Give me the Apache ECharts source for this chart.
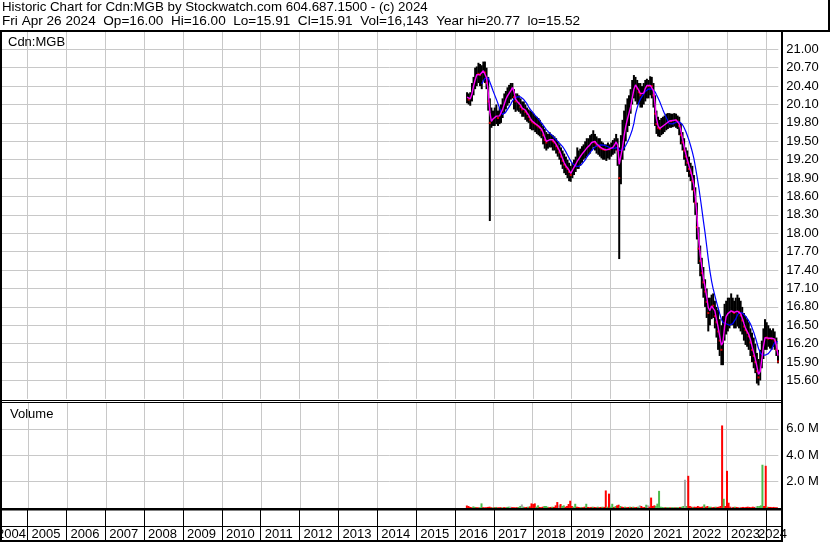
<!DOCTYPE html>
<html><head><meta charset="utf-8">
<script src="https://cdn.jsdelivr.net/npm/echarts@6/dist/echarts.min.js"></script>
<style>html,body{margin:0;padding:0;background:#fff;}#c{width:830px;height:543px;}</style>
</head><body><div id="c"></div>
<script>
// ---------------- texts ----------------
const headerLine1 = 'Historic Chart for Cdn:MGB by Stockwatch.com 604.687.1500 - (c) 2024';
const headerLine2 = 'Fri Apr 26 2024  Op=16.00  Hi=16.00  Lo=15.91  Cl=15.91  Vol=16,143  Year hi=20.77  lo=15.52';
const symbolLabel = 'Cdn:MGB';
const volumeLabel = 'Volume';
const yearLabels = ['2004','2005','2006','2007','2008','2009','2010','2011','2012','2013','2014','2015','2016','2017','2018','2019','2020','2021','2022','2023','2024'];

// ---------------- axis ranges ----------------
const axisStart = [2004, 3, 26];   // Apr 26 2004
const axisEnd = [2024, 3, 26];     // Apr 26 2024
const priceMin = 15.3, priceMax = 21.3, priceStep = 0.3;
const volMin = 0, volMax = 8, volStep = 2;   // millions

// ---------------- data: half-month periods (8th / 23rd), Apr 2016 .. Apr 2024 ----------------
const periodDates = [];
for (let y = 2016; y <= 2024; y++) for (let m = 1; m <= 12; m++) for (const d of [8, 23]) {
  const s = y + '-' + String(m).padStart(2, '0') + '-' + String(d).padStart(2, '0');
  if (s >= '2016-04-23' && s <= '2024-04-23') periodDates.push(s);
}

const highs = [
  20.30,20.28,20.30,20.45,20.55,20.70,20.72,20.78,20.76,20.74,20.80,20.80,20.70,20.55,20.20,20.05,20.00,
  20.05,20.10,20.00,20.05,20.10,20.20,20.28,20.32,20.38,20.42,20.45,20.45,20.35,20.28,20.28,20.25,20.20,20.15,20.15,20.10,20.05,20.02,20.00,19.98,
  19.95,19.92,19.90,19.88,19.85,19.80,19.75,19.70,19.65,19.62,19.65,19.62,19.60,19.58,19.55,19.50,19.45,19.40,19.35,19.30,19.25,19.20,19.15,19.10,
  19.15,19.20,19.25,19.40,19.35,19.38,19.42,19.45,19.50,19.55,19.55,19.60,19.62,19.68,19.62,19.58,19.55,19.55,19.50,19.48,19.45,19.45,19.48,19.45,
  19.48,19.52,19.55,19.62,19.55,19.40,19.60,19.85,20.00,20.10,20.20,20.25,20.35,20.50,20.58,20.55,20.50,20.45,20.45,20.40,20.45,20.50,20.52,20.50,
  20.56,20.55,20.45,20.25,20.00,19.90,19.85,19.88,19.90,19.92,19.95,19.96,19.96,19.95,19.95,19.96,19.95,19.92,19.90,19.80,19.65,19.55,19.40,19.35,
  19.25,19.15,19.10,18.95,18.75,18.50,18.10,17.80,17.60,17.45,17.25,17.10,16.95,16.95,17.00,17.02,16.90,16.80,16.75,16.60,16.50,16.65,16.85,16.90,
  16.95,16.95,17.02,16.95,16.90,16.95,17.00,16.95,16.90,16.80,16.70,16.65,16.60,16.55,16.45,16.38,16.30,16.20,16.05,15.95,16.10,16.25,16.45,16.60,
  16.55,16.50,16.45,16.42,16.45,16.40,16.30,16.10
];
const lows = [
  20.12,20.10,20.08,20.15,20.25,20.35,20.40,20.45,20.40,20.35,20.50,20.45,20.35,20.00,18.20,19.72,19.75,
  19.75,19.78,19.75,19.78,19.80,19.88,19.95,20.02,20.08,20.12,20.18,20.20,20.02,19.98,20.00,19.98,19.95,19.90,19.90,19.85,19.82,19.80,19.70,19.68,
  19.68,19.65,19.62,19.60,19.58,19.55,19.45,19.38,19.35,19.38,19.40,19.40,19.35,19.35,19.30,19.25,19.20,19.12,19.05,18.98,18.95,18.90,18.85,18.84,
  18.90,18.95,19.00,19.05,19.05,19.10,19.15,19.20,19.22,19.25,19.28,19.30,19.35,19.40,19.35,19.30,19.28,19.25,19.22,19.20,19.20,19.18,19.22,19.20,
  19.25,19.28,19.30,19.35,19.10,17.58,18.80,19.20,19.35,19.50,19.65,19.75,19.95,20.10,20.20,20.15,20.10,20.10,20.05,20.05,20.10,20.15,20.20,20.20,
  20.25,20.20,20.05,19.75,19.62,19.58,19.57,19.60,19.62,19.65,19.68,19.70,19.72,19.72,19.73,19.74,19.72,19.70,19.60,19.45,19.35,19.20,19.10,19.00,
  18.92,18.85,18.70,18.50,18.30,17.90,17.50,17.30,17.10,16.95,16.80,16.62,16.40,16.50,16.60,16.62,16.45,16.30,16.10,16.00,15.85,15.85,16.25,16.35,
  16.40,16.45,16.50,16.50,16.45,16.45,16.48,16.45,16.40,16.35,16.25,16.18,16.15,16.10,16.00,15.90,15.80,15.72,15.55,15.52,15.60,15.80,15.95,16.10,
  16.10,16.15,16.12,16.10,16.15,16.10,16.00,15.88
];
const closes = [
  20.22,20.18,20.20,20.35,20.45,20.55,20.62,20.60,20.58,20.62,20.68,20.62,20.45,20.15,19.80,19.85,19.88,
  19.90,19.92,19.88,19.95,19.98,20.06,20.15,20.22,20.26,20.30,20.35,20.40,20.22,20.15,20.15,20.12,20.06,20.02,20.04,19.98,19.95,19.90,19.85,19.82,
  19.80,19.78,19.76,19.74,19.72,19.68,19.60,19.52,19.48,19.50,19.55,19.55,19.50,19.48,19.42,19.38,19.32,19.25,19.18,19.12,19.08,19.05,19.00,18.95,
  19.05,19.10,19.15,19.20,19.22,19.28,19.30,19.33,19.38,19.40,19.43,19.46,19.50,19.52,19.48,19.44,19.42,19.40,19.38,19.37,19.36,19.36,19.38,19.37,
  19.38,19.42,19.46,19.52,19.35,18.90,19.30,19.50,19.68,19.80,19.92,20.00,20.12,20.28,20.42,20.42,20.36,20.30,20.25,20.25,20.32,20.40,20.42,20.40,
  20.42,20.40,20.25,19.95,19.78,19.72,19.70,19.74,19.76,19.78,19.80,19.82,19.84,19.83,19.85,19.86,19.84,19.82,19.75,19.60,19.48,19.35,19.25,19.15,
  19.05,18.98,18.85,18.70,18.50,18.10,17.75,17.55,17.35,17.20,17.05,16.88,16.70,16.78,16.85,16.82,16.65,16.55,16.40,16.25,16.10,16.35,16.60,16.68,
  16.70,16.72,16.75,16.72,16.70,16.72,16.74,16.72,16.66,16.58,16.48,16.42,16.38,16.32,16.22,16.10,16.00,15.90,15.75,15.65,15.85,16.05,16.25,16.35,
  16.30,16.28,16.30,16.28,16.30,16.25,16.10,15.91
];
// volume in millions of shares (largest day within each half-month)
const volumes = [
  0.19,0.15,0.08,0.06,0.12,0.08,0.06,0.05,0.06,0.35,0.06,0.05,0.06,0.08,0.10,0.06,0.05,
  0.06,0.08,0.05,0.05,0.06,0.05,0.06,0.05,0.08,0.10,0.10,0.06,0.06,0.05,0.06,0.08,0.15,0.27,0.10,0.06,0.08,0.10,0.12,0.35,
  0.30,0.35,0.10,0.20,0.08,0.06,0.10,0.15,0.15,0.10,0.06,0.08,0.10,0.08,0.20,0.45,0.20,0.30,0.15,0.20,0.10,0.15,0.30,0.55,
  0.15,0.10,0.32,0.10,0.08,0.06,0.08,0.06,0.10,0.32,0.08,0.06,0.08,0.10,0.08,0.06,0.10,0.06,0.08,0.10,0.08,1.33,0.10,1.09,
  0.10,0.32,0.08,0.15,0.20,0.25,0.15,0.10,0.08,0.10,0.06,0.08,0.10,0.08,0.10,0.06,0.08,0.10,0.20,0.15,0.06,0.08,0.25,0.20,
  0.10,0.79,0.15,0.20,0.15,0.33,1.30,0.10,0.08,0.06,0.06,0.06,0.06,0.05,0.06,0.06,0.05,0.06,0.06,0.08,0.10,0.15,2.14,0.15,
  2.44,0.15,0.10,0.08,0.10,0.08,0.15,0.10,0.08,0.12,0.27,0.10,0.15,0.10,0.10,0.06,0.08,0.10,0.08,0.10,0.15,6.26,0.70,0.15,
  2.82,0.40,0.10,0.08,0.08,0.10,0.08,0.06,0.08,0.06,0.08,0.06,0.08,0.10,0.08,0.06,0.10,0.08,0.10,0.15,0.15,0.20,3.28,0.15,
  3.20,0.10,0.08,0.08,0.06,0.08,0.06,0.05
];
// r = down day, g = up day, n = unchanged
const volumeDirs = (
  'rrrrggrrggrrrrrrg' +
  'rgrrrgrrggnrrrrggngrrgrr' +
  'rrggrrrgggrrgrrrnrggrrrr' +
  'rggrrrgrrgrrrgrrgrrgrrgr' +
  'ggrgrrgrrgrrgrgrrgnrrrgn' +
  'rrrrggggggrggrggrggrggng' +
  'rrrgrrrrrrgrrggrrgrrrrgr' +
  'rrrnrgrrnrrrrrrrrrnggggr' +
  'rgrrrrrr'
).split('');

const MA_SHORT = 2, MA_LONG = 10;   // periods (half-months)

// ---------------- helpers ----------------
function movingAverage(vals, n, partial) {
  return vals.map((v, i) => {
    if (i < n - 1 && !partial) return null;
    const s = vals.slice(Math.max(0, i - n + 1), i + 1);
    return +(s.reduce((a, b) => a + b, 0) / s.length).toFixed(3);
  });
}
const maShort = movingAverage(closes, MA_SHORT, true);
const maLong = movingAverage(closes, MA_LONG, false);
// closing marks are shown for the periods that closed lower than the previous one
const downCloses = periodDates.map((d, i) => (i > 0 && closes[i] < closes[i - 1]) ? [d, closes[i]] : [d, null]);

const FONT = '"Liberation Sans", Arial, sans-serif';
const GRID_COL = '#c8c8c8';
const volColors = { r: '#ff0000', g: '#4cbb4c', n: '#a8a8a8' };
const tMin = new Date(axisStart[0], axisStart[1], axisStart[2]).getTime();
const tMax = new Date(axisEnd[0], axisEnd[1], axisEnd[2]).getTime();
const DAY = 86400000;

const chart = echarts.init(document.getElementById('c'), null, { renderer: 'canvas', width: 830, height: 543 });

function xAxisFor(i, color) {
  return {
    type: 'time', gridIndex: i, min: tMin, max: tMax,
    splitNumber: 20, minInterval: 365 * DAY, maxInterval: 366 * DAY,
    axisLine: { show: false }, axisTick: { show: false }, axisLabel: { show: false },
    splitLine: { show: true, showMinLine: false, showMaxLine: false, lineStyle: { color: color, width: 1 } }
  };
}

const option = {
  animation: false,
  backgroundColor: '#ffffff',
  textStyle: { fontFamily: FONT },
  grid: [
    { left: 1, width: 777.3, top: 30.9, height: 368 },
    { left: 1, width: 777.3, top: 402.5, height: 105.5 },
    { left: 1, width: 777.3, top: 510, height: 31 }
  ],
  xAxis: [xAxisFor(0, GRID_COL), xAxisFor(1, GRID_COL), xAxisFor(2, '#000000')],
  yAxis: [
    {
      type: 'value', gridIndex: 0, position: 'right', min: priceMin, max: priceMax, interval: priceStep,
      axisLine: { show: false }, axisTick: { show: false },
      axisLabel: { margin: 8, fontSize: 13, fontFamily: FONT, color: '#000', showMinLabel: false, showMaxLabel: false,
        formatter: v => v.toFixed(2) },
      splitLine: { show: true, showMinLine: false, showMaxLine: false, lineStyle: { color: GRID_COL, width: 1 } }
    },
    {
      type: 'value', gridIndex: 1, position: 'right', min: volMin, max: volMax, interval: volStep,
      axisLine: { show: false }, axisTick: { show: false },
      axisLabel: { margin: 8, fontSize: 13, fontFamily: FONT, color: '#000', showMinLabel: false, showMaxLabel: false,
        formatter: v => v.toFixed(1) + ' M' },
      splitLine: { show: true, showMinLine: false, showMaxLine: false, lineStyle: { color: GRID_COL, width: 1 } }
    },
    { type: 'value', gridIndex: 2, show: false, splitLine: { show: false } }
  ],
  series: [
    {
      type: 'custom', name: 'range', xAxisIndex: 0, yAxisIndex: 0, clip: true,
      data: periodDates.map((d, i) => [d, highs[i], lows[i]]),
      encode: { x: 0, y: [1, 2] },
      renderItem: (params, api) => {
        const t = api.value(0);
        const hi = api.coord([t, api.value(1)]);
        const lo = api.coord([t, api.value(2)]);
        return {
          type: 'rect',
          shape: { x: hi[0] - 1, y: hi[1], width: 2, height: Math.max(1, lo[1] - hi[1]) },
          style: { fill: '#000000' }
        };
      }
    },
    {
      type: 'scatter', name: 'close', xAxisIndex: 0, yAxisIndex: 0,
      data: downCloses,
      symbol: 'rect', symbolSize: 2, itemStyle: { color: '#ff0000' }, silent: true
    },
    {
      type: 'line', name: 'MA long', xAxisIndex: 0, yAxisIndex: 0,
      data: periodDates.map((d, i) => [d, maLong[i]]),
      showSymbol: false, symbol: 'none', connectNulls: false,
      lineStyle: { color: '#0000ff', width: 1.2 }
    },
    {
      type: 'line', name: 'MA short', xAxisIndex: 0, yAxisIndex: 0,
      data: periodDates.map((d, i) => [d, maShort[i]]),
      showSymbol: false, symbol: 'none',
      lineStyle: { color: '#ff00ff', width: 1.4 }
    },
    {
      type: 'bar', name: 'Volume', xAxisIndex: 1, yAxisIndex: 1, barWidth: 2,
      data: periodDates.map((d, i) => [d, volumes[i]]),
      itemStyle: { color: p => volColors[volumeDirs[p.dataIndex]] || '#ff0000' }
    }
  ]
};
chart.setOption(option);

// ---------------- frame, labels ----------------
const els = [];
function rect(x, y, w, h) { els.push({ type: 'rect', z: 100, shape: { x: x, y: y, width: w, height: h }, style: { fill: '#000' }, silent: true }); }
function text(t, x, y, size, z) {
  els.push({ type: 'text', z: z || 50, x: x, y: y, silent: true,
    style: { text: t, font: size + 'px ' + FONT, fill: '#000', align: 'left', verticalAlign: 'middle' } });
}
text(headerLine1, 2, 7, 13.3);
text(headerLine2, 2, 21, 13.6);
text(symbolLabel, 8, 42, 13);
text(volumeLabel, 10, 414, 13);

yearLabels.forEach(y => {
  const bx = chart.convertToPixel({ xAxisIndex: 2 }, new Date(+y, 0, 1).getTime());
  let x = bx + 4;
  x = Math.max(x, -3);
  x = Math.min(x, 787 - 29);
  text(y, x, 534.5, 13);
});

rect(0, 30, 830, 2);        // header bottom
rect(828, 0, 2, 31);        // header right
rect(0, 30, 2, 512);        // left frame
rect(781, 30, 2, 512);      // right axis line
rect(0, 400, 783, 1);       // price panel bottom (double line)
rect(0, 402, 783, 1);
rect(0, 508, 783, 2.5);     // volume bottom
rect(0, 526, 783, 1);       // tick row / label row separator
rect(0, 540, 783, 2);       // bottom

chart.setOption({ graphic: { elements: els } });
</script>
</body></html>
